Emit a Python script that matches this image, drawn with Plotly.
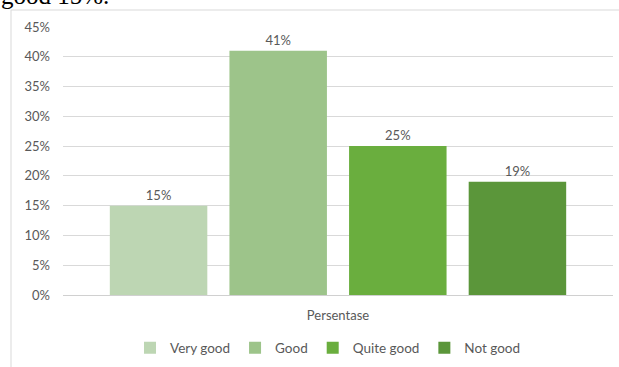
import plotly.graph_objects as go

categories = ["Persentase"]
series_names = ["Very good", "Good", "Quite good", "Not good"]
series_values = [15, 41, 25, 19]
series_colors = ["#bdd6b3", "#9dc48a", "#6aae3e", "#5b963a"]
y_ticks = [0, 5, 10, 15, 20, 25, 30, 35, 40, 45]
y_tick_labels = [f"{v}%" for v in y_ticks]
header_text = "good 15%."

W, H = 619, 367
ML, MR, MT, MB = 63, 6, 27, 72
PW, PH = W - ML - MR, H - MT - MB

def px_x(x):
    return (x - ML) / PW

def px_y(y):
    return (H - MB - y) / PH

FONT = "Lato"
GREY = "#595959"

fig = go.Figure()
for name, val, col in zip(series_names, series_values, series_colors):
    fig.add_trace(go.Bar(
        x=categories, y=[val], name=name,
        marker=dict(color=col, line=dict(width=0)),
        text=[f"{val}%"], textposition="outside",
        textfont=dict(family=FONT, size=13, color=GREY),
        cliponaxis=False,
    ))

fig.update_layout(
    width=W, height=H,
    margin=dict(l=ML, r=MR, t=MT, b=MB, pad=0, autoexpand=False),
    paper_bgcolor="white", plot_bgcolor="white",
    barmode="group", bargap=0.13, bargroupgap=0.185,
    font=dict(family=FONT, size=13, color=GREY),
    showlegend=True,
    legend=dict(orientation="h", x=px_x(328), xanchor="center",
                y=px_y(348), yanchor="middle",
                itemwidth=30, font=dict(family=FONT, size=13.5, color=GREY),
                traceorder="normal", itemclick=False),
    xaxis=dict(showgrid=False, showline=False, ticks="", automargin=False,
               tickfont=dict(family=FONT, size=13, color=GREY),
               ticklabelstandoff=11, fixedrange=True),
    yaxis=dict(range=[0, 45], tickvals=y_ticks, ticktext=y_tick_labels,
               showgrid=True, gridcolor="#d9d9d9", gridwidth=1,
               zeroline=True, zerolinecolor="#d0d0d0", zerolinewidth=1,
               showline=False, ticks="", automargin=False,
               tickfont=dict(family=FONT, size=13, color=GREY),
               ticklabelstandoff=12, fixedrange=True),
    shapes=[dict(type="rect", xref="paper", yref="paper",
                 x0=px_x(11), x1=px_x(626), y0=px_y(380), y1=px_y(10),
                 line=dict(color="#d9d9d9", width=1), fillcolor="rgba(0,0,0,0)",
                 layer="below")],
    annotations=[dict(text=header_text, xref="paper", yref="paper",
                      x=px_x(-1), y=px_y(11), xanchor="left", yanchor="bottom",
                      showarrow=False,
                      font=dict(family="Liberation Serif", size=25, color="black"))],
)

fig.write_html("out.html", config={"displayModeBar": False},
               post_script="document.body.style.margin='0';")
